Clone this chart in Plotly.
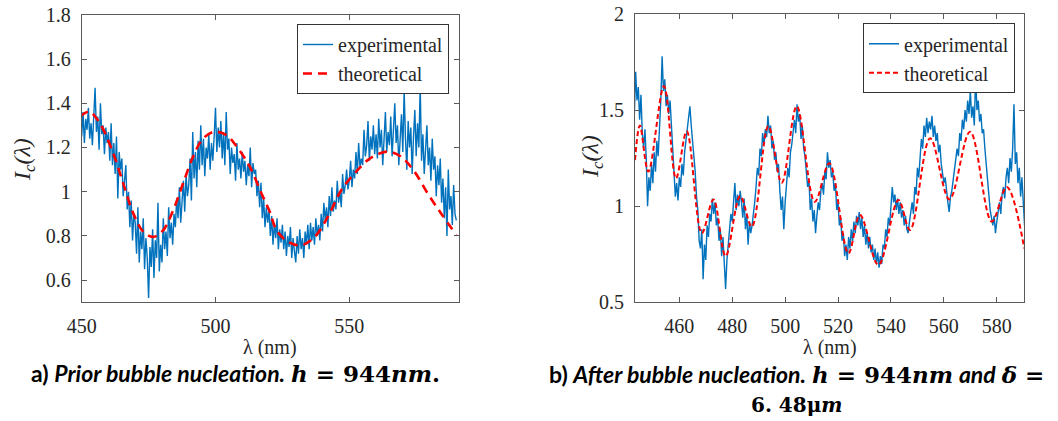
import plotly.graph_objects as go

W, H = 1058, 421

# ---------------- Panel a) data (prior bubble nucleation) ----------------
exp_a_start, exp_a_step = 450.0, 0.5
exp_a = [
    1.25, 1.36, 1.22, 1.33, 1.28, 1.38, 1.24, 1.31, 1.21, 1.35,
    1.47, 1.27, 1.34, 1.19, 1.40, 1.26, 1.30, 1.17, 1.29, 1.22,
    1.27, 1.14, 1.31, 1.12, 1.22, 1.08, 1.25, 0.97, 1.18, 1.10,
    1.15, 0.98, 1.05, 1.12, 0.92, 1.00, 0.84, 0.96, 0.78, 0.90,
    0.86, 0.72, 0.93, 0.68, 0.82, 0.74, 0.88, 0.65, 0.79, 0.70,
    0.52, 0.75, 0.66, 0.83, 0.61, 0.78, 0.70, 0.95, 0.64, 0.76,
    0.68, 0.88, 0.74, 0.82, 0.71, 0.93, 0.79, 0.86, 0.76, 0.90,
    0.84, 0.97, 0.88, 1.02, 0.86, 0.95, 1.05, 0.91, 1.08, 0.98,
    1.03, 1.15, 0.96, 1.27, 1.06, 1.18, 1.02, 1.23, 1.10, 1.30,
    1.12, 1.24, 1.07, 1.20, 1.15, 1.26, 1.10, 1.22, 1.14, 1.25,
    1.38, 1.18, 1.29, 1.20, 1.32, 1.15, 1.27, 1.12, 1.36, 1.19,
    1.24, 1.08, 1.20, 1.13, 1.17, 1.05, 1.22, 1.10, 1.15, 1.06,
    1.18, 1.09, 1.14, 1.03, 1.12, 1.07, 1.20, 1.02, 1.13, 1.08,
    1.10, 0.98, 1.05, 0.93, 1.04, 0.88, 0.97, 0.84, 0.93, 0.86,
    0.92, 0.80, 0.89, 0.76, 0.86, 0.79, 0.88, 0.74, 0.83, 0.77,
    0.85, 0.74, 0.82, 0.71, 0.80, 0.75, 0.84, 0.70, 0.79, 0.73,
    0.68, 0.80, 0.72, 0.83, 0.74, 0.79, 0.70, 0.82, 0.76, 0.85,
    0.74, 0.86, 0.78, 0.84, 0.76, 0.88, 0.80, 0.85, 0.78, 0.90,
    0.82, 0.95, 0.87, 0.93, 0.84, 0.98, 0.89, 1.02, 0.91, 0.96,
    0.92, 1.05, 0.95, 1.00, 0.93, 1.08, 0.99, 1.03, 1.10, 1.01,
    1.05, 1.14, 1.02, 1.10, 1.06, 1.18, 1.08, 1.22, 1.11, 1.15,
    1.12, 1.28, 1.16, 1.21, 1.32, 1.14, 1.25, 1.19, 1.30, 1.17,
    1.26, 1.15, 1.33, 1.20, 1.28, 1.12, 1.24, 1.36, 1.18, 1.27,
    1.21, 1.34, 1.16, 1.28, 1.40, 1.22, 1.30, 1.12, 1.26, 1.35,
    1.18, 1.46, 1.24, 1.10, 1.32, 1.20, 1.29, 1.08, 1.25, 1.37,
    1.16, 1.31, 1.20, 1.48, 1.14, 1.26, 1.08, 1.22, 1.30, 1.12,
    1.20, 1.05, 1.24, 1.10, 1.16, 0.98, 1.12, 1.03, 1.15, 0.95,
    1.06, 0.88, 1.02, 0.80, 1.10, 0.92, 0.98, 0.85, 1.03, 0.90,
    0.87,
]
wl_a = [exp_a_start + exp_a_step * i for i in range(len(exp_a))]

theo_a_wl = [449.4, 452.8, 456.8, 461.8, 465.5, 469.3, 473.0, 476.7, 480.5,
             484.2, 487.9, 491.6, 495.4, 499.7, 504.1, 508.4, 512.8, 517.2,
             520.3, 522.8, 527.1, 532.1, 537.1, 542.0, 547.0, 552.0, 556.9,
             561.3, 565.0, 569.4, 574.4, 579.3, 584.3, 590.0]
theo_a = [1.339, 1.362, 1.309, 1.173, 1.038, 0.902, 0.819, 0.796, 0.826,
          0.917, 1.038, 1.158, 1.241, 1.271, 1.256, 1.196, 1.113, 0.992,
          0.909, 0.826, 0.774, 0.758, 0.796, 0.887, 1.007, 1.083, 1.143,
          1.173, 1.181, 1.158, 1.090, 0.992, 0.902, 0.804]

# ---------------- Panel b) data (after bubble nucleation) ----------------
exp_b_start, exp_b_step = 443.0, 0.5
exp_b = [
    1.48, 1.70, 1.55, 1.62, 1.45, 1.58, 1.38, 1.30, 1.40, 1.25,
    1.00, 1.15, 1.08, 1.22, 1.12, 1.28, 1.18, 1.34, 1.26, 1.40,
    1.55, 1.78, 1.60, 1.66, 1.52, 1.58, 1.48, 1.55, 1.42, 1.36,
    1.18, 1.05, 1.12, 1.03, 1.15, 1.10, 1.22, 1.16, 1.28, 1.35,
    1.40, 1.46, 1.52, 1.42, 1.35, 1.26, 1.18, 1.05, 0.98, 0.82,
    0.78, 0.88, 0.62, 0.80, 0.72, 0.90, 0.84, 0.96, 0.92, 1.04,
    0.96, 1.02, 0.90, 0.94, 0.82, 0.88, 0.74, 0.84, 0.66, 0.57,
    0.72, 0.80, 0.86, 0.96, 0.92, 1.04, 1.12, 0.98, 1.06, 1.00,
    1.08, 1.02, 0.94, 1.04, 0.88, 0.96, 0.80, 0.92, 0.86, 0.90,
    0.95, 1.02, 1.10, 1.20, 1.16, 1.30, 1.26, 1.38, 1.32, 1.40,
    1.36, 1.47, 1.38, 1.42, 1.30, 1.34, 1.24, 1.28, 1.18, 1.22,
    1.08, 0.98, 1.05, 0.88, 1.02, 1.10, 1.20, 1.15, 1.28, 1.32,
    1.40, 1.45, 1.38, 1.53, 1.44, 1.48, 1.35, 1.42, 1.30, 1.26,
    1.18, 1.10, 1.14, 0.98, 1.04, 0.92, 0.98, 0.86, 0.95, 1.02,
    0.98, 1.08, 1.12, 1.06, 1.18, 1.14, 1.28, 1.20, 1.24, 1.15,
    1.18, 1.08, 1.12, 0.98, 1.02, 0.90, 0.94, 0.82, 0.86, 0.74,
    0.80, 0.72, 0.84, 0.78, 0.88, 0.82, 0.92, 0.86, 0.95, 0.90,
    0.97, 0.88, 0.94, 0.84, 0.90, 0.80, 0.86, 0.78, 0.84, 0.76,
    0.80, 0.72, 0.78, 0.70, 0.76, 0.68, 0.74, 0.70, 0.80, 0.78,
    0.88, 0.84, 0.94, 0.90, 1.00, 1.10, 1.02, 1.06, 0.98, 1.04,
    0.96, 1.02, 0.94, 0.98, 0.90, 0.95, 0.88, 0.86, 0.92, 0.98,
    1.02, 0.96, 1.10, 1.06, 1.20, 1.15, 1.28, 1.35, 1.30, 1.42,
    1.36, 1.46, 1.38, 1.44, 1.40, 1.47, 1.36, 1.42, 1.34, 1.38,
    1.28, 1.32, 1.22, 1.18, 1.12, 1.15, 1.06, 1.02, 0.97, 1.05,
    1.08, 1.14, 1.18, 1.24, 1.30, 1.26, 1.38, 1.34, 1.45, 1.40,
    1.50, 1.44, 1.55, 1.48, 1.60, 1.46, 1.52, 1.42, 1.68, 1.50,
    1.55, 1.44, 1.48, 1.38, 1.40, 1.30, 1.22, 1.15, 1.05, 0.98,
    0.94, 0.90, 0.95, 0.86, 0.92, 0.98, 1.02, 0.96, 1.06, 1.10,
    1.04, 1.15, 1.20, 1.12, 1.25, 1.18, 1.30, 1.53, 1.22, 1.28,
    1.12, 1.20, 1.05, 1.15, 0.98, 0.90,
]
wl_b = [exp_b_start + exp_b_step * i for i in range(len(exp_b))]

theo_b_wl = [443.25, 445.1, 448.3, 454.2, 458.75, 462.8, 468.5, 472.9, 477.5,
             483.0, 487.4, 493.65, 498.7, 504.4, 511.2, 516.7, 523.9, 528.3,
             535.25, 542.8, 547.2, 554.8, 562.1, 569.9, 578.1, 583.8, 590.4]
theo_b = [1.24, 1.42, 1.18, 1.625, 1.145, 1.39, 0.86, 1.035, 0.74,
          1.053, 0.893, 1.417, 1.122, 1.52, 1.023, 1.223, 0.755, 0.954,
          0.694, 1.032, 0.876, 1.353, 1.035, 1.388, 0.92, 1.10, 0.78]

ticks_a_x = [450, 500, 550]
ticks_a_y = [0.6, 0.8, 1.0, 1.2, 1.4, 1.6, 1.8]
ticks_b_x = [460, 480, 500, 520, 540, 560, 580]
ticks_b_y = [0.5, 1.0, 1.5, 2.0]

BLUE = "#0072BD"
RED = "#FF0000"
AX = "#262626"
FRAME = "#5a5a5a"
SERIF = "Times New Roman, Liberation Serif, Tinos, DejaVu Serif, serif"


def fx(px):
    return px / W


def fy(py):
    return 1 - py / H


fig = go.Figure()
fig.add_trace(go.Scatter(x=wl_a, y=exp_a, mode="lines", name="experimental",
                         line=dict(color=BLUE, width=1.4),
                         xaxis="x", yaxis="y", legend="legend"))
fig.add_trace(go.Scatter(x=theo_a_wl, y=theo_a, mode="lines", name="theoretical",
                         line=dict(color=RED, width=2.6, dash="9px,6px", shape="spline"),
                         xaxis="x", yaxis="y", legend="legend"))
fig.add_trace(go.Scatter(x=wl_b, y=exp_b, mode="lines", name="experimental",
                         line=dict(color=BLUE, width=1.4),
                         xaxis="x2", yaxis="y2", legend="legend2"))
fig.add_trace(go.Scatter(x=theo_b_wl, y=theo_b, mode="lines", name="theoretical",
                         line=dict(color=RED, width=2.0, dash="5px,3px", shape="spline"),
                         xaxis="x2", yaxis="y2", legend="legend2"))

axis_common = dict(showgrid=False, zeroline=False, showline=True, linecolor=FRAME,
                   linewidth=1, mirror="ticks", ticks="inside", ticklen=5,
                   tickcolor=FRAME, automargin=False,
                   tickfont=dict(family=SERIF, size=20, color=AX))

fig.update_layout(
    width=W, height=H, margin=dict(l=0, r=0, t=0, b=0),
    paper_bgcolor="white", plot_bgcolor="white", showlegend=True,
    xaxis=dict(domain=[fx(81.7), fx(459)], range=[450, 591], tickvals=ticks_a_x,
               anchor="y", ticklabelstandoff=6, **axis_common),
    yaxis=dict(domain=[fy(302.3), fy(14.8)], range=[0.5, 1.8], tickvals=ticks_a_y,
               anchor="x", ticklabelstandoff=6, **axis_common),
    xaxis2=dict(domain=[fx(635), fx(1024.3)], range=[443.25, 590.4], tickvals=ticks_b_x,
                anchor="y2", ticklabelstandoff=6, **axis_common),
    yaxis2=dict(domain=[fy(302.3), fy(14)], range=[0.5, 2.0], tickvals=ticks_b_y,
                anchor="x2", ticklabelstandoff=6, **axis_common),
    legend=dict(x=fx(449), y=fy(24), xanchor="right", yanchor="top",
                bordercolor="#333333", borderwidth=1, bgcolor="white",
                font=dict(family=SERIF, size=20, color=AX), tracegroupgap=0),
    legend2=dict(x=fx(1015), y=fy(23.3), xanchor="right", yanchor="top",
                 bordercolor="#333333", borderwidth=1, bgcolor="white",
                 font=dict(family=SERIF, size=20, color=AX), tracegroupgap=0),
)

title_font = dict(family=SERIF, size=20, color=AX)
ylab_font = dict(family=SERIF, size=24, color=AX)
ann = []
# x axis titles
ann.append(dict(text="λ (nm)", x=fx(270), y=fy(347), xref="paper", yref="paper",
                showarrow=False, font=title_font, xanchor="center", yanchor="middle"))
ann.append(dict(text="λ (nm)", x=fx(830), y=fy(347), xref="paper", yref="paper",
                showarrow=False, font=title_font, xanchor="center", yanchor="middle"))
# y axis titles
ylab = "<i>I</i><sub><i>c</i></sub><i>(λ)</i>"
ann.append(dict(text=ylab, x=fx(24), y=fy(160),
                xref="paper", yref="paper", showarrow=False, font=ylab_font,
                textangle=-90, xanchor="center", yanchor="middle"))
ann.append(dict(text=ylab, x=fx(592), y=fy(157),
                xref="paper", yref="paper", showarrow=False, font=ylab_font,
                textangle=-90, xanchor="center", yanchor="middle"))

cap_font = dict(family="Lato", size=23, color="black")
math_style = "font-family:'DejaVu Serif'"
cap_a = ("<b>a) <i>Prior bubble nucleation.</i></b> "
         f"<span style=\"{math_style}\"><b><i>h</i> = 944<i>nm</i>.</b></span>")
cap_b1 = ("<b>b) <i>After bubble nucleation.</i></b> "
          f"<span style=\"{math_style}\"><b><i>h</i> = 944<i>nm</i></b></span>"
          " <b><i>and</i></b> "
          f"<span style=\"{math_style}\"><b><i>δ</i> =</b></span>")
cap_b2 = f"<span style=\"{math_style}\"><b>6. 48μ<i>m</i></b></span>"
ann.append(dict(text=cap_a, x=fx(235), y=fy(373), xref="paper", yref="paper",
                showarrow=False, font=cap_font, xanchor="center", yanchor="middle"))
ann.append(dict(text=cap_b1, x=fx(547), y=fy(374), xref="paper", yref="paper",
                showarrow=False, font=cap_font, xanchor="left", yanchor="middle"))
ann.append(dict(text=cap_b2, x=fx(796), y=fy(405), xref="paper", yref="paper",
                showarrow=False, font=dict(family="Lato", size=20, color="black"),
                xanchor="center", yanchor="middle"))
fig.update_layout(annotations=ann)

fig.write_html("out.html")
